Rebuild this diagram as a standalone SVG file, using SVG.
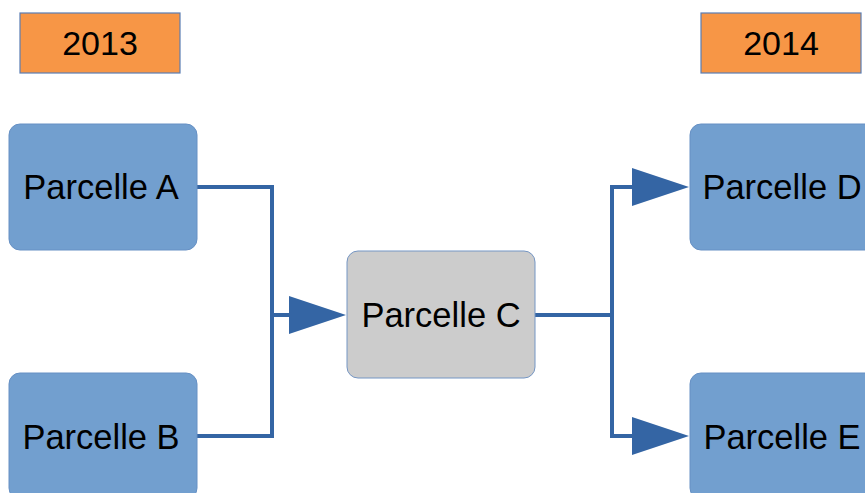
<svg xmlns="http://www.w3.org/2000/svg" width="865" height="493" viewBox="0 0 865 493">
<style>
.year{fill:#f79646;stroke:#5a7db3;stroke-width:1.2}
.node{fill:#729fcf;stroke:#6690c4;stroke-width:1}
.gray{fill:#cccccc;stroke:#7596c4;stroke-width:1}
text{font-family:"Liberation Sans",Arial,sans-serif;font-size:34.5px;fill:#000;text-anchor:middle}
text.y{font-size:34px}
.conn{fill:none;stroke:#3465a4;stroke-width:4;stroke-linejoin:miter}
.head{fill:#3465a4}
</style>
<rect width="865" height="493" fill="#ffffff"/>
<g id="year2013"><rect class="year" x="20" y="13" width="160" height="60"/><text class="y" x="100" y="55">2013</text></g>
<g id="year2014"><rect class="year" x="701" y="13" width="160" height="60"/><text class="y" x="781" y="55">2014</text></g>
<g id="connectors">
<path class="conn" d="M197 187 H272 V436 H197"/>
<path class="conn" d="M272 315 H292"/>
<polygon class="head" points="289,296 346,315 289,334"/>
<path class="conn" d="M535 315 H612"/>
<path class="conn" d="M635 187 H612 V436 H635"/>
<polygon class="head" points="632,168 689,187 632,206"/>
<polygon class="head" points="632,417 689,436 632,455"/>
</g>
<g id="parcelleA"><rect class="node" x="9" y="124" width="188" height="126" rx="11"/><text x="101" y="199">Parcelle A</text></g>
<g id="parcelleB"><rect class="node" x="9" y="373" width="188" height="126" rx="11"/><text x="101" y="449">Parcelle B</text></g>
<g id="parcelleC"><rect class="gray" x="347" y="251" width="188" height="127" rx="11"/><text x="441" y="327">Parcelle C</text></g>
<g id="parcelleD"><rect class="node" x="690" y="124" width="188" height="126" rx="11"/><text x="782" y="199">Parcelle D</text></g>
<g id="parcelleE"><rect class="node" x="690" y="373" width="188" height="126" rx="11"/><text x="782" y="449">Parcelle E</text></g>
</svg>
